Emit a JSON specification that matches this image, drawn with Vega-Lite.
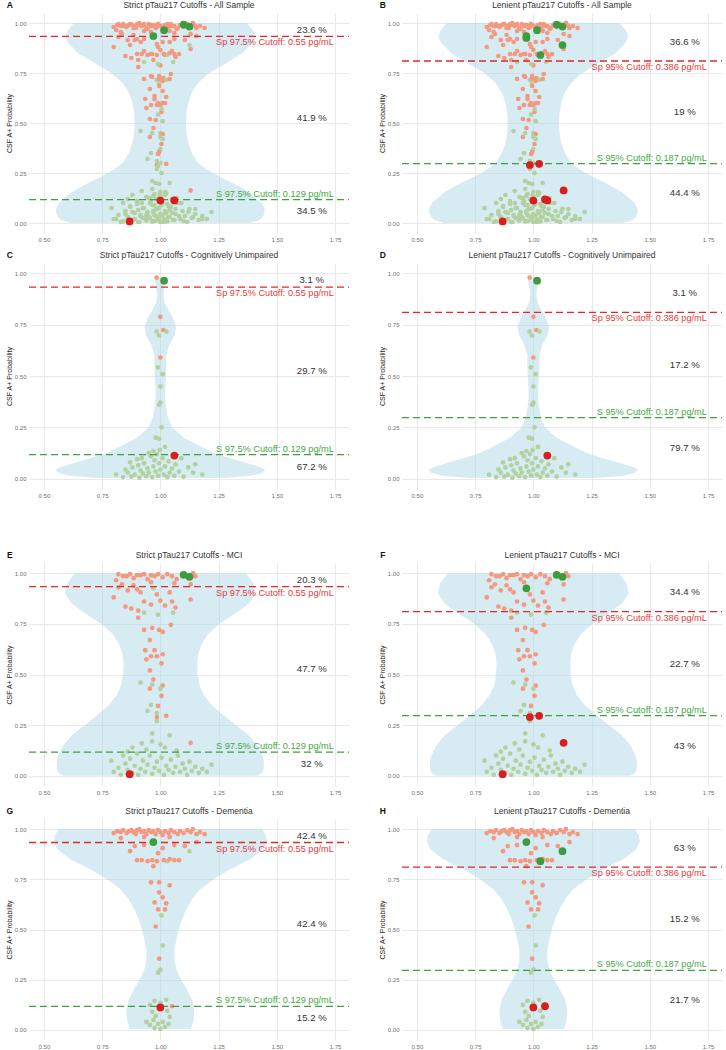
{
"$schema": "https://vega.github.io/schema/vega-lite/v6.json",
"padding": {"left": 5, "top": 1, "right": 0, "bottom": 0},
"config": {
  "font": "Liberation Sans",
  "view": {"stroke": null},
  "axis": {"domain": false, "ticks": false, "labelFontSize": 6, "labelColor": "#707070", "labelPadding": 3, "titleFontSize": 7, "titleFontWeight": "normal", "titleColor": "#222222", "titlePadding": 2}
},
"datasets": {
"cut": [
 {"m":"S","k":"sp","y":0.933,"t":"Sp 97.5% Cutoff: 0.55 pg/mL"},
 {"m":"S","k":"s","y":0.117,"t":"S 97.5% Cutoff: 0.129 pg/mL"},
 {"m":"L","k":"sp","y":0.81,"t":"Sp 95% Cutoff: 0.386 pg/mL"},
 {"m":"L","k":"s","y":0.297,"t":"S 95% Cutoff: 0.187 pg/mL"}
],
"pct": [
 {"p":"A","y":0.9665,"t":"23.6 %"},{"p":"A","y":0.525,"t":"41.9 %"},{"p":"A","y":0.0585,"t":"34.5 %"},
 {"p":"B","y":0.905,"t":"36.6 %"},{"p":"B","y":0.5535,"t":"19 %"},{"p":"B","y":0.1485,"t":"44.4 %"},
 {"p":"C","y":0.9665,"t":"3.1 %"},{"p":"C","y":0.525,"t":"29.7 %"},{"p":"C","y":0.0585,"t":"67.2 %"},
 {"p":"D","y":0.905,"t":"3.1 %"},{"p":"D","y":0.5535,"t":"17.2 %"},{"p":"D","y":0.1485,"t":"79.7 %"},
 {"p":"E","y":0.9665,"t":"20.3 %"},{"p":"E","y":0.525,"t":"47.7 %"},{"p":"E","y":0.0585,"t":"32 %"},
 {"p":"F","y":0.905,"t":"34.4 %"},{"p":"F","y":0.5535,"t":"22.7 %"},{"p":"F","y":0.1485,"t":"43 %"},
 {"p":"G","y":0.9665,"t":"42.4 %"},{"p":"G","y":0.525,"t":"42.4 %"},{"p":"G","y":0.0585,"t":"15.2 %"},
 {"p":"H","y":0.905,"t":"63 %"},{"p":"H","y":0.5535,"t":"15.2 %"},{"p":"H","y":0.1485,"t":"21.7 %"}
],
"ttl": [
 {"p":"A","t":"Strict pTau217 Cutoffs - All Sample"},
 {"p":"B","t":"Lenient pTau217 Cutoffs - All Sample"},
 {"p":"C","t":"Strict pTau217 Cutoffs - Cognitively Unimpaired"},
 {"p":"D","t":"Lenient pTau217 Cutoffs - Cognitively Unimpaired"},
 {"p":"E","t":"Strict pTau217 Cutoffs - MCI"},
 {"p":"F","t":"Lenient pTau217 Cutoffs - MCI"},
 {"p":"G","t":"Strict pTau217 Cutoffs - Dementia"},
 {"p":"H","t":"Lenient pTau217 Cutoffs - Dementia"}
],
"vio": [
 {"v":"A","y":0.0,"x":0.615,"x2":1.385},{"v":"A","y":0.015,"x":0.575,"x2":1.425},{"v":"A","y":0.03,"x":0.56,"x2":1.44},{"v":"A","y":0.05,"x":0.553,"x2":1.447},{"v":"A","y":0.07,"x":0.552,"x2":1.448},{"v":"A","y":0.1,"x":0.565,"x2":1.435},{"v":"A","y":0.125,"x":0.59,"x2":1.41},{"v":"A","y":0.15,"x":0.615,"x2":1.385},{"v":"A","y":0.175,"x":0.65,"x2":1.35},{"v":"A","y":0.2,"x":0.69,"x2":1.31},{"v":"A","y":0.225,"x":0.735,"x2":1.265},{"v":"A","y":0.25,"x":0.775,"x2":1.225},{"v":"A","y":0.275,"x":0.81,"x2":1.19},{"v":"A","y":0.3,"x":0.838,"x2":1.162},{"v":"A","y":0.35,"x":0.865,"x2":1.135},{"v":"A","y":0.4,"x":0.88,"x2":1.12},{"v":"A","y":0.45,"x":0.888,"x2":1.112},{"v":"A","y":0.5,"x":0.89,"x2":1.11},{"v":"A","y":0.55,"x":0.888,"x2":1.112},{"v":"A","y":0.6,"x":0.88,"x2":1.12},{"v":"A","y":0.65,"x":0.866,"x2":1.134},{"v":"A","y":0.7,"x":0.838,"x2":1.162},{"v":"A","y":0.75,"x":0.79,"x2":1.21},{"v":"A","y":0.8,"x":0.717,"x2":1.283},{"v":"A","y":0.85,"x":0.646,"x2":1.354},{"v":"A","y":0.9,"x":0.605,"x2":1.395},{"v":"A","y":0.93,"x":0.592,"x2":1.408},{"v":"A","y":0.96,"x":0.6,"x2":1.4},{"v":"A","y":1.0,"x":0.63,"x2":1.37},
 {"v":"C","y":0.003,"x":0.73,"x2":1.27},{"v":"C","y":0.015,"x":0.61,"x2":1.39},{"v":"C","y":0.03,"x":0.56,"x2":1.44},{"v":"C","y":0.045,"x":0.55,"x2":1.45},{"v":"C","y":0.06,"x":0.58,"x2":1.42},{"v":"C","y":0.08,"x":0.64,"x2":1.36},{"v":"C","y":0.1,"x":0.7,"x2":1.3},{"v":"C","y":0.12,"x":0.76,"x2":1.24},{"v":"C","y":0.15,"x":0.815,"x2":1.185},{"v":"C","y":0.2,"x":0.9,"x2":1.1},{"v":"C","y":0.25,"x":0.95,"x2":1.05},{"v":"C","y":0.3,"x":0.968,"x2":1.032},{"v":"C","y":0.35,"x":0.976,"x2":1.024},{"v":"C","y":0.4,"x":0.98,"x2":1.02},{"v":"C","y":0.45,"x":0.979,"x2":1.021},{"v":"C","y":0.5,"x":0.976,"x2":1.024},{"v":"C","y":0.55,"x":0.974,"x2":1.026},{"v":"C","y":0.6,"x":0.975,"x2":1.025},{"v":"C","y":0.65,"x":0.962,"x2":1.038},{"v":"C","y":0.7,"x":0.938,"x2":1.062},{"v":"C","y":0.74,"x":0.932,"x2":1.068},{"v":"C","y":0.78,"x":0.945,"x2":1.055},{"v":"C","y":0.82,"x":0.965,"x2":1.035},{"v":"C","y":0.86,"x":0.983,"x2":1.017},{"v":"C","y":0.9,"x":0.987,"x2":1.013},{"v":"C","y":0.94,"x":0.982,"x2":1.018},{"v":"C","y":0.97,"x":0.976,"x2":1.024},{"v":"C","y":0.98,"x":0.98,"x2":1.02},
 {"v":"M","y":0.0,"x":0.583,"x2":1.417},{"v":"M","y":0.015,"x":0.563,"x2":1.437},{"v":"M","y":0.03,"x":0.557,"x2":1.443},{"v":"M","y":0.07,"x":0.555,"x2":1.445},{"v":"M","y":0.1,"x":0.562,"x2":1.438},{"v":"M","y":0.15,"x":0.583,"x2":1.417},{"v":"M","y":0.2,"x":0.62,"x2":1.38},{"v":"M","y":0.25,"x":0.675,"x2":1.325},{"v":"M","y":0.3,"x":0.73,"x2":1.27},{"v":"M","y":0.35,"x":0.78,"x2":1.22},{"v":"M","y":0.4,"x":0.814,"x2":1.186},{"v":"M","y":0.45,"x":0.833,"x2":1.167},{"v":"M","y":0.5,"x":0.84,"x2":1.16},{"v":"M","y":0.55,"x":0.842,"x2":1.158},{"v":"M","y":0.6,"x":0.838,"x2":1.162},{"v":"M","y":0.65,"x":0.823,"x2":1.177},{"v":"M","y":0.7,"x":0.795,"x2":1.205},{"v":"M","y":0.75,"x":0.746,"x2":1.254},{"v":"M","y":0.8,"x":0.68,"x2":1.32},{"v":"M","y":0.85,"x":0.62,"x2":1.38},{"v":"M","y":0.9,"x":0.59,"x2":1.41},{"v":"M","y":0.95,"x":0.6,"x2":1.4},{"v":"M","y":1.0,"x":0.633,"x2":1.367},
 {"v":"D","y":0.003,"x":0.869,"x2":1.131},{"v":"D","y":0.05,"x":0.857,"x2":1.143},{"v":"D","y":0.1,"x":0.854,"x2":1.146},{"v":"D","y":0.15,"x":0.864,"x2":1.136},{"v":"D","y":0.2,"x":0.886,"x2":1.114},{"v":"D","y":0.25,"x":0.911,"x2":1.089},{"v":"D","y":0.3,"x":0.931,"x2":1.069},{"v":"D","y":0.35,"x":0.94,"x2":1.06},{"v":"D","y":0.4,"x":0.94,"x2":1.06},{"v":"D","y":0.45,"x":0.931,"x2":1.069},{"v":"D","y":0.5,"x":0.921,"x2":1.079},{"v":"D","y":0.55,"x":0.907,"x2":1.093},{"v":"D","y":0.6,"x":0.889,"x2":1.111},{"v":"D","y":0.65,"x":0.864,"x2":1.136},{"v":"D","y":0.7,"x":0.829,"x2":1.171},{"v":"D","y":0.75,"x":0.771,"x2":1.229},{"v":"D","y":0.8,"x":0.7,"x2":1.3},{"v":"D","y":0.85,"x":0.614,"x2":1.386},{"v":"D","y":0.9,"x":0.557,"x2":1.443},{"v":"D","y":0.94,"x":0.543,"x2":1.457},{"v":"D","y":0.97,"x":0.548,"x2":1.452},{"v":"D","y":1.0,"x":0.564,"x2":1.436}
],
"pts": [
 {"g":"C","x":0.984,"y":0.979,"c":"p"},{"g":"C","x":1.016,"y":0.964,"c":"n"},{"g":"C","x":1.0,"y":0.788,"c":"p"},{"g":"C","x":1.013,"y":0.724,"c":"p"},{"g":"C","x":0.984,"y":0.716,"c":"n"},{"g":"C","x":0.994,"y":0.697,"c":"n"},{"g":"C","x":1.026,"y":0.716,"c":"n"},{"g":"C","x":1.0,"y":0.59,"c":"p"},{"g":"C","x":0.99,"y":0.542,"c":"n"},{"g":"C","x":1.01,"y":0.509,"c":"n"},{"g":"C","x":1.0,"y":0.449,"c":"n"},{"g":"C","x":1.0,"y":0.37,"c":"n"},{"g":"C","x":0.995,"y":0.36,"c":"n"},
 {"g":"C","x":1.005,"y":0.25,"c":"n"},{"g":"C","x":0.98,"y":0.2,"c":"n"},{"g":"C","x":0.995,"y":0.195,"c":"n"},{"g":"C","x":1.02,"y":0.155,"c":"n"},{"g":"C","x":0.997,"y":0.14,"c":"n"},{"g":"C","x":0.97,"y":0.135,"c":"n"},{"g":"C","x":0.95,"y":0.125,"c":"n"},{"g":"C","x":0.985,"y":0.12,"c":"n"},{"g":"C","x":1.06,"y":0.113,"c":"p"},
 {"g":"C","x":0.81,"y":0.02,"c":"n"},{"g":"C","x":0.84,"y":0.008,"c":"n"},{"g":"C","x":0.85,"y":0.045,"c":"n"},{"g":"C","x":0.86,"y":0.03,"c":"n"},{"g":"C","x":0.87,"y":0.08,"c":"n"},{"g":"C","x":0.875,"y":0.01,"c":"n"},{"g":"C","x":0.88,"y":0.055,"c":"n"},{"g":"C","x":0.89,"y":0.02,"c":"n"},{"g":"C","x":0.9,"y":0.095,"c":"n"},{"g":"C","x":0.905,"y":0.065,"c":"n"},{"g":"C","x":0.91,"y":0.005,"c":"n"},{"g":"C","x":0.915,"y":0.04,"c":"n"},{"g":"C","x":0.92,"y":0.1,"c":"n"},{"g":"C","x":0.925,"y":0.025,"c":"n"},{"g":"C","x":0.93,"y":0.075,"c":"n"},{"g":"C","x":0.94,"y":0.012,"c":"n"},{"g":"C","x":0.945,"y":0.05,"c":"n"},{"g":"C","x":0.95,"y":0.03,"c":"n"},{"g":"C","x":0.96,"y":0.11,"c":"n"},{"g":"C","x":0.965,"y":0.008,"c":"n"},{"g":"C","x":0.97,"y":0.06,"c":"n"},{"g":"C","x":0.975,"y":0.09,"c":"n"},{"g":"C","x":0.98,"y":0.035,"c":"n"},{"g":"C","x":0.99,"y":0.015,"c":"n"},{"g":"C","x":0.995,"y":0.075,"c":"n"},{"g":"C","x":1.0,"y":0.045,"c":"n"},{"g":"C","x":1.01,"y":0.1,"c":"n"},{"g":"C","x":1.015,"y":0.02,"c":"n"},{"g":"C","x":1.02,"y":0.06,"c":"n"},{"g":"C","x":1.03,"y":0.008,"c":"n"},{"g":"C","x":1.035,"y":0.085,"c":"n"},{"g":"C","x":1.04,"y":0.03,"c":"n"},{"g":"C","x":1.05,"y":0.05,"c":"n"},{"g":"C","x":1.06,"y":0.015,"c":"n"},{"g":"C","x":1.065,"y":0.07,"c":"n"},{"g":"C","x":1.08,"y":0.035,"c":"n"},{"g":"C","x":1.09,"y":0.1,"c":"n"},{"g":"C","x":1.1,"y":0.01,"c":"n"},{"g":"C","x":1.12,"y":0.055,"c":"n"},{"g":"C","x":1.14,"y":0.03,"c":"n"},{"g":"C","x":1.15,"y":0.07,"c":"n"},{"g":"C","x":1.18,"y":0.02,"c":"n"},
 {"g":"M","x":0.82,"y":0.995,"c":"p"},{"g":"M","x":0.81,"y":0.965,"c":"p"},{"g":"M","x":0.84,"y":0.985,"c":"p"},{"g":"M","x":0.855,"y":0.985,"c":"p"},{"g":"M","x":0.87,"y":0.995,"c":"p"},{"g":"M","x":0.885,"y":0.975,"c":"p"},{"g":"M","x":0.9,"y":0.99,"c":"p"},{"g":"M","x":0.915,"y":0.99,"c":"p"},{"g":"M","x":0.93,"y":0.995,"c":"p"},{"g":"M","x":0.945,"y":0.97,"c":"p"},{"g":"M","x":0.96,"y":0.99,"c":"p"},{"g":"M","x":0.975,"y":0.985,"c":"p"},{"g":"M","x":0.99,"y":0.995,"c":"p"},{"g":"M","x":1.01,"y":0.98,"c":"p"},{"g":"M","x":1.03,"y":0.995,"c":"p"},{"g":"M","x":1.05,"y":0.985,"c":"p"},{"g":"M","x":1.07,"y":0.97,"c":"p"},{"g":"M","x":1.14,"y":1.0,"c":"p"},{"g":"M","x":1.15,"y":0.985,"c":"p"},{"g":"M","x":0.835,"y":0.945,"c":"p"},{"g":"M","x":0.885,"y":0.94,"c":"p"},{"g":"M","x":0.96,"y":0.955,"c":"p"},{"g":"M","x":1.06,"y":0.95,"c":"p"},{"g":"M","x":1.13,"y":0.945,"c":"p"},{"g":"M","x":1.1,"y":0.992,"c":"n"},{"g":"M","x":1.125,"y":0.982,"c":"n"},
 {"g":"M","x":0.97,"y":0.925,"c":"n"},{"g":"M","x":0.8,"y":0.88,"c":"p"},{"g":"M","x":0.82,"y":0.93,"c":"p"},{"g":"M","x":0.86,"y":0.915,"c":"p"},{"g":"M","x":0.9,"y":0.92,"c":"p"},{"g":"M","x":0.915,"y":0.905,"c":"p"},{"g":"M","x":0.93,"y":0.86,"c":"p"},{"g":"M","x":0.85,"y":0.835,"c":"p"},{"g":"M","x":0.875,"y":0.825,"c":"p"},{"g":"M","x":0.905,"y":0.815,"c":"p"},{"g":"M","x":0.96,"y":0.845,"c":"p"},{"g":"M","x":0.985,"y":0.895,"c":"p"},{"g":"M","x":1.0,"y":0.865,"c":"p"},{"g":"M","x":1.02,"y":0.84,"c":"p"},{"g":"M","x":1.05,"y":0.86,"c":"p"},{"g":"M","x":1.065,"y":0.83,"c":"p"},{"g":"M","x":1.13,"y":0.87,"c":"p"},{"g":"M","x":1.04,"y":0.905,"c":"p"},
 {"g":"M","x":0.905,"y":0.78,"c":"p"},{"g":"M","x":0.93,"y":0.72,"c":"p"},{"g":"M","x":0.965,"y":0.73,"c":"p"},{"g":"M","x":0.995,"y":0.72,"c":"p"},{"g":"M","x":1.01,"y":0.71,"c":"p"},{"g":"M","x":1.045,"y":0.745,"c":"p"},{"g":"M","x":0.955,"y":0.67,"c":"p"},{"g":"M","x":0.935,"y":0.62,"c":"p"},{"g":"M","x":0.975,"y":0.62,"c":"p"},{"g":"M","x":0.96,"y":0.59,"c":"p"},{"g":"M","x":0.985,"y":0.59,"c":"p"},{"g":"M","x":1.01,"y":0.6,"c":"p"},{"g":"M","x":0.94,"y":0.575,"c":"p"},{"g":"M","x":1.005,"y":0.555,"c":"p"},{"g":"M","x":0.955,"y":0.52,"c":"p"},{"g":"M","x":0.97,"y":0.475,"c":"p"},{"g":"M","x":1.01,"y":0.445,"c":"p"},{"g":"M","x":0.955,"y":0.43,"c":"p"},{"g":"M","x":1.005,"y":0.395,"c":"p"},{"g":"M","x":0.99,"y":0.345,"c":"p"},
 {"g":"M","x":0.93,"y":0.805,"c":"n"},{"g":"M","x":0.99,"y":0.795,"c":"n"},{"g":"M","x":1.055,"y":0.805,"c":"n"},{"g":"M","x":0.915,"y":0.46,"c":"n"},{"g":"M","x":0.965,"y":0.45,"c":"n"},{"g":"M","x":1.0,"y":0.43,"c":"n"},{"g":"M","x":0.96,"y":0.35,"c":"n"},{"g":"M","x":0.945,"y":0.32,"c":"n"},{"g":"M","x":0.985,"y":0.31,"c":"n"},
 {"g":"M","x":0.985,"y":0.29,"c":"p"},{"g":"M","x":1.025,"y":0.296,"c":"p"},{"g":"M","x":1.13,"y":0.163,"c":"p"},{"g":"M","x":0.985,"y":0.27,"c":"n"},{"g":"M","x":0.965,"y":0.21,"c":"n"},{"g":"M","x":1.04,"y":0.2,"c":"n"},{"g":"M","x":0.92,"y":0.16,"c":"n"},{"g":"M","x":0.965,"y":0.17,"c":"n"},{"g":"M","x":1.0,"y":0.155,"c":"n"},{"g":"M","x":0.88,"y":0.14,"c":"n"},{"g":"M","x":0.94,"y":0.13,"c":"n"},{"g":"M","x":1.02,"y":0.14,"c":"n"},{"g":"M","x":1.07,"y":0.125,"c":"n"},{"g":"M","x":0.86,"y":0.12,"c":"n"},
 {"g":"M","x":0.868,"y":0.008,"c":"p"},
 {"g":"M","x":0.79,"y":0.075,"c":"n"},{"g":"M","x":0.8,"y":0.02,"c":"n"},{"g":"M","x":0.82,"y":0.04,"c":"n"},{"g":"M","x":0.83,"y":0.005,"c":"n"},{"g":"M","x":0.84,"y":0.1,"c":"n"},{"g":"M","x":0.85,"y":0.06,"c":"n"},{"g":"M","x":0.86,"y":0.03,"c":"n"},{"g":"M","x":0.87,"y":0.085,"c":"n"},{"g":"M","x":0.88,"y":0.015,"c":"n"},{"g":"M","x":0.89,"y":0.05,"c":"n"},{"g":"M","x":0.9,"y":0.11,"c":"n"},{"g":"M","x":0.905,"y":0.005,"c":"n"},{"g":"M","x":0.915,"y":0.035,"c":"n"},{"g":"M","x":0.925,"y":0.075,"c":"n"},{"g":"M","x":0.935,"y":0.02,"c":"n"},{"g":"M","x":0.945,"y":0.055,"c":"n"},{"g":"M","x":0.955,"y":0.1,"c":"n"},{"g":"M","x":0.965,"y":0.01,"c":"n"},{"g":"M","x":0.975,"y":0.04,"c":"n"},{"g":"M","x":0.985,"y":0.07,"c":"n"},{"g":"M","x":0.995,"y":0.025,"c":"n"},{"g":"M","x":1.005,"y":0.09,"c":"n"},{"g":"M","x":1.015,"y":0.005,"c":"n"},{"g":"M","x":1.025,"y":0.05,"c":"n"},{"g":"M","x":1.035,"y":0.03,"c":"n"},{"g":"M","x":1.045,"y":0.08,"c":"n"},{"g":"M","x":1.055,"y":0.015,"c":"n"},{"g":"M","x":1.065,"y":0.045,"c":"n"},{"g":"M","x":1.075,"y":0.1,"c":"n"},{"g":"M","x":1.085,"y":0.02,"c":"n"},{"g":"M","x":1.095,"y":0.06,"c":"n"},{"g":"M","x":1.105,"y":0.035,"c":"n"},{"g":"M","x":1.115,"y":0.005,"c":"n"},{"g":"M","x":1.125,"y":0.07,"c":"n"},{"g":"M","x":1.135,"y":0.025,"c":"n"},{"g":"M","x":1.15,"y":0.045,"c":"n"},{"g":"M","x":1.165,"y":0.015,"c":"n"},{"g":"M","x":1.18,"y":0.035,"c":"n"},{"g":"M","x":1.2,"y":0.02,"c":"n"},{"g":"M","x":1.22,"y":0.055,"c":"n"},
 {"g":"D","x":0.97,"y":0.935,"c":"n"},
 {"g":"D","x":0.8,"y":0.98,"c":"p"},{"g":"D","x":0.815,"y":0.99,"c":"p"},{"g":"D","x":0.83,"y":0.985,"c":"p"},{"g":"D","x":0.84,"y":0.995,"c":"p"},{"g":"D","x":0.855,"y":0.98,"c":"p"},{"g":"D","x":0.865,"y":0.99,"c":"p"},{"g":"D","x":0.875,"y":0.995,"c":"p"},{"g":"D","x":0.885,"y":0.985,"c":"p"},{"g":"D","x":0.895,"y":0.975,"c":"p"},{"g":"D","x":0.9,"y":0.995,"c":"p"},{"g":"D","x":0.91,"y":1.0,"c":"p"},{"g":"D","x":0.92,"y":0.985,"c":"p"},{"g":"D","x":0.93,"y":0.99,"c":"p"},{"g":"D","x":0.94,"y":0.975,"c":"p"},{"g":"D","x":0.95,"y":0.995,"c":"p"},{"g":"D","x":0.96,"y":0.985,"c":"p"},{"g":"D","x":0.97,"y":0.99,"c":"p"},{"g":"D","x":0.98,"y":0.975,"c":"p"},{"g":"D","x":0.99,"y":0.995,"c":"p"},{"g":"D","x":1.0,"y":0.985,"c":"p"},{"g":"D","x":1.01,"y":0.97,"c":"p"},{"g":"D","x":1.02,"y":0.99,"c":"p"},{"g":"D","x":1.035,"y":0.98,"c":"p"},{"g":"D","x":1.045,"y":0.995,"c":"p"},{"g":"D","x":1.06,"y":0.985,"c":"p"},{"g":"D","x":1.075,"y":0.975,"c":"p"},{"g":"D","x":1.085,"y":0.99,"c":"p"},{"g":"D","x":1.1,"y":0.98,"c":"p"},{"g":"D","x":1.115,"y":0.995,"c":"p"},{"g":"D","x":1.13,"y":0.985,"c":"p"},{"g":"D","x":1.14,"y":1.0,"c":"p"},{"g":"D","x":1.155,"y":0.975,"c":"p"},{"g":"D","x":1.17,"y":0.985,"c":"p"},{"g":"D","x":1.19,"y":0.975,"c":"p"},{"g":"D","x":0.83,"y":0.955,"c":"p"},{"g":"D","x":0.93,"y":0.96,"c":"p"},{"g":"D","x":1.04,"y":0.96,"c":"p"},{"g":"D","x":1.155,"y":0.935,"c":"p"},
 {"g":"D","x":1.125,"y":0.89,"c":"n"},{"g":"D","x":1.03,"y":0.84,"c":"n"},
 {"g":"D","x":0.87,"y":0.89,"c":"p"},{"g":"D","x":0.89,"y":0.915,"c":"p"},{"g":"D","x":0.93,"y":0.92,"c":"p"},{"g":"D","x":0.99,"y":0.88,"c":"p"},{"g":"D","x":1.01,"y":0.905,"c":"p"},{"g":"D","x":1.06,"y":0.92,"c":"p"},{"g":"D","x":1.105,"y":0.915,"c":"p"},{"g":"D","x":0.9,"y":0.845,"c":"p"},{"g":"D","x":0.92,"y":0.845,"c":"p"},{"g":"D","x":0.945,"y":0.84,"c":"p"},{"g":"D","x":0.965,"y":0.845,"c":"p"},{"g":"D","x":0.985,"y":0.84,"c":"p"},{"g":"D","x":1.015,"y":0.845,"c":"p"},{"g":"D","x":1.04,"y":0.85,"c":"p"},{"g":"D","x":1.06,"y":0.845,"c":"p"},{"g":"D","x":1.08,"y":0.845,"c":"p"},{"g":"D","x":0.97,"y":0.815,"c":"p"},
 {"g":"D","x":0.96,"y":0.735,"c":"p"},{"g":"D","x":0.995,"y":0.735,"c":"p"},{"g":"D","x":1.04,"y":0.72,"c":"p"},{"g":"D","x":0.995,"y":0.685,"c":"p"},{"g":"D","x":1.01,"y":0.66,"c":"p"},{"g":"D","x":0.975,"y":0.635,"c":"p"},{"g":"D","x":1.025,"y":0.63,"c":"p"},{"g":"D","x":0.99,"y":0.6,"c":"p"},{"g":"D","x":1.02,"y":0.6,"c":"p"},{"g":"D","x":0.98,"y":0.515,"c":"p"},{"g":"D","x":0.995,"y":0.355,"c":"p"},{"g":"D","x":1.005,"y":0.57,"c":"n"},{"g":"D","x":1.01,"y":0.42,"c":"n"},{"g":"D","x":1.0,"y":0.3,"c":"n"},
 {"g":"D","x":0.99,"y":0.285,"c":"n"},{"g":"D","x":0.975,"y":0.145,"c":"n"},{"g":"D","x":1.025,"y":0.15,"c":"n"},{"g":"D","x":1.0,"y":0.135,"c":"n"},{"g":"D","x":0.955,"y":0.125,"c":"n"},{"g":"D","x":1.05,"y":0.118,"c":"p"},
 {"g":"D","x":1.0,"y":0.112,"c":"p"},
 {"g":"D","x":0.94,"y":0.04,"c":"n"},{"g":"D","x":0.955,"y":0.025,"c":"n"},{"g":"D","x":0.97,"y":0.05,"c":"n"},{"g":"D","x":0.975,"y":0.01,"c":"n"},{"g":"D","x":0.99,"y":0.03,"c":"n"},{"g":"D","x":1.0,"y":0.005,"c":"n"},{"g":"D","x":1.01,"y":0.04,"c":"n"},{"g":"D","x":1.02,"y":0.015,"c":"n"},{"g":"D","x":1.035,"y":0.03,"c":"n"},{"g":"D","x":1.04,"y":0.065,"c":"n"},{"g":"D","x":0.965,"y":0.09,"c":"n"},{"g":"D","x":1.03,"y":0.095,"c":"n"},{"g":"D","x":0.98,"y":0.07,"c":"n"}
]
},
"spacing": 53,
"vconcat": [
{"spacing": 9, "vconcat": [
{"spacing": 28, "hconcat": [
{"width": 320, "height": 220,
 "layer": [
  {"data":{"name":"vio"},"transform":[{"filter":"datum.v=='A'"}],"mark":{"type":"area","orient":"horizontal","color":"#ADD8E6","opacity":0.5},"encoding":{
   "x": {"field":"x","type":"quantitative","scale":{"domain":[0.436,1.81],"nice":false,"zero":false},"axis":{"title":null,"values":[0.5,0.625,0.75,0.875,1,1.125,1.25,1.375,1.5,1.625,1.75],"labelExpr":"abs(datum.value*4-round(datum.value*4))<0.01 ? format(datum.value,'.2f') : ''","gridWidth":{"condition":{"test":"abs(datum.value*4-round(datum.value*4))<0.01","value":0.9},"value":0.45},"gridColor":{"condition":{"test":"abs(datum.value*4-round(datum.value*4))<0.01","value":"#e6e6e6"},"value":"#f0f0f0"}}},
   "x2": {"field":"x2"},
   "y": {"field":"y","type":"quantitative","scale":{"domain":[-0.05,1.05],"nice":false,"zero":false},"axis":{"title":"CSF A+ Probability","values":[0,0.125,0.25,0.375,0.5,0.625,0.75,0.875,1],"labelExpr":"abs(datum.value*4-round(datum.value*4))<0.01 ? format(datum.value,'.2f') : ''","gridWidth":{"condition":{"test":"abs(datum.value*4-round(datum.value*4))<0.01","value":0.9},"value":0.45},"gridColor":{"condition":{"test":"abs(datum.value*4-round(datum.value*4))<0.01","value":"#e6e6e6"},"value":"#f0f0f0"}}}}},
  {"data":{"name":"pts"},"transform":[{"filter":"!((datum.c=='n'&&datum.y>0.933)||(datum.c=='p'&&datum.y<0.117))"}],"mark":{"type":"circle","size":22,"opacity":1},"encoding":{"x":{"field":"x","type":"quantitative"},"y":{"field":"y","type":"quantitative"},"color":{"condition":{"test":"datum.c=='p'","value":"#F6977F"},"value":"#B3D09F"}}},
  {"data":{"name":"cut"},"transform":[{"filter":"datum.m=='S'"}],"mark":{"type":"rule","strokeDash":[7,4],"strokeWidth":1.3},"encoding":{"x":{"datum":0.436},"x2":{"datum":1.81},"y":{"field":"y","type":"quantitative"},"color":{"condition":{"test":"datum.k=='sp'","value":"#E02A2A"},"value":"#40A040"}}},
  {"data":{"name":"pts"},"transform":[{"filter":"(datum.c=='n'&&datum.y>0.933)||(datum.c=='p'&&datum.y<0.117)"}],"mark":{"type":"circle","size":60,"opacity":1},"encoding":{"x":{"field":"x","type":"quantitative"},"y":{"field":"y","type":"quantitative"},"color":{"condition":{"test":"datum.c=='p'","value":"#D81E1E"},"value":"#3F9B3F"}}},
  {"data":{"name":"cut"},"transform":[{"filter":"datum.m=='S'&&datum.k=='sp'"}],"mark":{"type":"text","align":"right","baseline":"top","dy":2,"fontSize":9.2,"color":"#E33B3B"},"encoding":{"x":{"datum":1.745},"y":{"field":"y","type":"quantitative"},"text":{"field":"t"}}},
  {"data":{"name":"cut"},"transform":[{"filter":"datum.m=='S'&&datum.k=='s'"}],"mark":{"type":"text","align":"right","baseline":"bottom","dy":-1,"fontSize":9.2,"color":"#45A845"},"encoding":{"x":{"datum":1.745},"y":{"field":"y","type":"quantitative"},"text":{"field":"t"}}},
  {"data":{"name":"pct"},"transform":[{"filter":"datum.p=='A'"}],"mark":{"type":"text","fontSize":9.6,"color":"#333333"},"encoding":{"x":{"datum":1.65},"y":{"field":"y","type":"quantitative"},"text":{"field":"t"}}},
  {"data":{"name":"ttl"},"transform":[{"filter":"datum.p=='A'"}],"mark":{"type":"text","fontSize":8.5,"color":"#333333"},"encoding":{"x":{"datum":1.123},"y":{"datum":1.088},"text":{"field":"t"}}},
  {"data":{"name":"ttl"},"transform":[{"filter":"datum.p=='A'"}],"mark":{"type":"text","fontSize":8.5,"fontWeight":"bold","color":"#111111"},"encoding":{"x":{"datum":0.354},"y":{"datum":1.088},"text":{"field":"p"}}}
 ]},
{"width": 320, "height": 220,
 "layer": [
  {"data":{"name":"vio"},"transform":[{"filter":"datum.v=='A'"}],"mark":{"type":"area","orient":"horizontal","color":"#ADD8E6","opacity":0.5},"encoding":{
   "x": {"field":"x","type":"quantitative","scale":{"domain":[0.436,1.81],"nice":false,"zero":false},"axis":{"title":null,"values":[0.5,0.625,0.75,0.875,1,1.125,1.25,1.375,1.5,1.625,1.75],"labelExpr":"abs(datum.value*4-round(datum.value*4))<0.01 ? format(datum.value,'.2f') : ''","gridWidth":{"condition":{"test":"abs(datum.value*4-round(datum.value*4))<0.01","value":0.9},"value":0.45},"gridColor":{"condition":{"test":"abs(datum.value*4-round(datum.value*4))<0.01","value":"#e6e6e6"},"value":"#f0f0f0"}}},
   "x2": {"field":"x2"},
   "y": {"field":"y","type":"quantitative","scale":{"domain":[-0.05,1.05],"nice":false,"zero":false},"axis":{"title":"CSF A+ Probability","values":[0,0.125,0.25,0.375,0.5,0.625,0.75,0.875,1],"labelExpr":"abs(datum.value*4-round(datum.value*4))<0.01 ? format(datum.value,'.2f') : ''","gridWidth":{"condition":{"test":"abs(datum.value*4-round(datum.value*4))<0.01","value":0.9},"value":0.45},"gridColor":{"condition":{"test":"abs(datum.value*4-round(datum.value*4))<0.01","value":"#e6e6e6"},"value":"#f0f0f0"}}}}},
  {"data":{"name":"pts"},"transform":[{"filter":"!((datum.c=='n'&&datum.y>0.81)||(datum.c=='p'&&datum.y<0.297))"}],"mark":{"type":"circle","size":22,"opacity":1},"encoding":{"x":{"field":"x","type":"quantitative"},"y":{"field":"y","type":"quantitative"},"color":{"condition":{"test":"datum.c=='p'","value":"#F6977F"},"value":"#B3D09F"}}},
  {"data":{"name":"cut"},"transform":[{"filter":"datum.m=='L'"}],"mark":{"type":"rule","strokeDash":[7,4],"strokeWidth":1.3},"encoding":{"x":{"datum":0.436},"x2":{"datum":1.81},"y":{"field":"y","type":"quantitative"},"color":{"condition":{"test":"datum.k=='sp'","value":"#E02A2A"},"value":"#40A040"}}},
  {"data":{"name":"pts"},"transform":[{"filter":"(datum.c=='n'&&datum.y>0.81)||(datum.c=='p'&&datum.y<0.297)"}],"mark":{"type":"circle","size":60,"opacity":1},"encoding":{"x":{"field":"x","type":"quantitative"},"y":{"field":"y","type":"quantitative"},"color":{"condition":{"test":"datum.c=='p'","value":"#D81E1E"},"value":"#3F9B3F"}}},
  {"data":{"name":"cut"},"transform":[{"filter":"datum.m=='L'&&datum.k=='sp'"}],"mark":{"type":"text","align":"right","baseline":"top","dy":2,"fontSize":9.2,"color":"#E33B3B"},"encoding":{"x":{"datum":1.745},"y":{"field":"y","type":"quantitative"},"text":{"field":"t"}}},
  {"data":{"name":"cut"},"transform":[{"filter":"datum.m=='L'&&datum.k=='s'"}],"mark":{"type":"text","align":"right","baseline":"bottom","dy":-1,"fontSize":9.2,"color":"#45A845"},"encoding":{"x":{"datum":1.745},"y":{"field":"y","type":"quantitative"},"text":{"field":"t"}}},
  {"data":{"name":"pct"},"transform":[{"filter":"datum.p=='B'"}],"mark":{"type":"text","fontSize":9.6,"color":"#333333"},"encoding":{"x":{"datum":1.65},"y":{"field":"y","type":"quantitative"},"text":{"field":"t"}}},
  {"data":{"name":"ttl"},"transform":[{"filter":"datum.p=='B'"}],"mark":{"type":"text","fontSize":8.5,"color":"#333333"},"encoding":{"x":{"datum":1.123},"y":{"datum":1.088},"text":{"field":"t"}}},
  {"data":{"name":"ttl"},"transform":[{"filter":"datum.p=='B'"}],"mark":{"type":"text","fontSize":8.5,"fontWeight":"bold","color":"#111111"},"encoding":{"x":{"datum":0.354},"y":{"datum":1.088},"text":{"field":"p"}}}
 ]}
]},
{"spacing": 28, "hconcat": [
{"width": 320, "height": 226,
 "layer": [
  {"data":{"name":"vio"},"transform":[{"filter":"datum.v=='C'"}],"mark":{"type":"area","orient":"horizontal","color":"#ADD8E6","opacity":0.5},"encoding":{
   "x": {"field":"x","type":"quantitative","scale":{"domain":[0.436,1.81],"nice":false,"zero":false},"axis":{"title":null,"values":[0.5,0.625,0.75,0.875,1,1.125,1.25,1.375,1.5,1.625,1.75],"labelExpr":"abs(datum.value*4-round(datum.value*4))<0.01 ? format(datum.value,'.2f') : ''","gridWidth":{"condition":{"test":"abs(datum.value*4-round(datum.value*4))<0.01","value":0.9},"value":0.45},"gridColor":{"condition":{"test":"abs(datum.value*4-round(datum.value*4))<0.01","value":"#e6e6e6"},"value":"#f0f0f0"}}},
   "x2": {"field":"x2"},
   "y": {"field":"y","type":"quantitative","scale":{"domain":[-0.05,1.05],"nice":false,"zero":false},"axis":{"title":"CSF A+ Probability","values":[0,0.125,0.25,0.375,0.5,0.625,0.75,0.875,1],"labelExpr":"abs(datum.value*4-round(datum.value*4))<0.01 ? format(datum.value,'.2f') : ''","gridWidth":{"condition":{"test":"abs(datum.value*4-round(datum.value*4))<0.01","value":0.9},"value":0.45},"gridColor":{"condition":{"test":"abs(datum.value*4-round(datum.value*4))<0.01","value":"#e6e6e6"},"value":"#f0f0f0"}}}}},
  {"data":{"name":"pts"},"transform":[{"filter":"datum.g=='C'&&!((datum.c=='n'&&datum.y>0.933)||(datum.c=='p'&&datum.y<0.117))"}],"mark":{"type":"circle","size":22,"opacity":1},"encoding":{"x":{"field":"x","type":"quantitative"},"y":{"field":"y","type":"quantitative"},"color":{"condition":{"test":"datum.c=='p'","value":"#F6977F"},"value":"#B3D09F"}}},
  {"data":{"name":"cut"},"transform":[{"filter":"datum.m=='S'"}],"mark":{"type":"rule","strokeDash":[7,4],"strokeWidth":1.3},"encoding":{"x":{"datum":0.436},"x2":{"datum":1.81},"y":{"field":"y","type":"quantitative"},"color":{"condition":{"test":"datum.k=='sp'","value":"#E02A2A"},"value":"#40A040"}}},
  {"data":{"name":"pts"},"transform":[{"filter":"datum.g=='C'&&((datum.c=='n'&&datum.y>0.933)||(datum.c=='p'&&datum.y<0.117))"}],"mark":{"type":"circle","size":60,"opacity":1},"encoding":{"x":{"field":"x","type":"quantitative"},"y":{"field":"y","type":"quantitative"},"color":{"condition":{"test":"datum.c=='p'","value":"#D81E1E"},"value":"#3F9B3F"}}},
  {"data":{"name":"cut"},"transform":[{"filter":"datum.m=='S'&&datum.k=='sp'"}],"mark":{"type":"text","align":"right","baseline":"top","dy":2,"fontSize":9.2,"color":"#E33B3B"},"encoding":{"x":{"datum":1.745},"y":{"field":"y","type":"quantitative"},"text":{"field":"t"}}},
  {"data":{"name":"cut"},"transform":[{"filter":"datum.m=='S'&&datum.k=='s'"}],"mark":{"type":"text","align":"right","baseline":"bottom","dy":-1,"fontSize":9.2,"color":"#45A845"},"encoding":{"x":{"datum":1.745},"y":{"field":"y","type":"quantitative"},"text":{"field":"t"}}},
  {"data":{"name":"pct"},"transform":[{"filter":"datum.p=='C'"}],"mark":{"type":"text","fontSize":9.6,"color":"#333333"},"encoding":{"x":{"datum":1.65},"y":{"field":"y","type":"quantitative"},"text":{"field":"t"}}},
  {"data":{"name":"ttl"},"transform":[{"filter":"datum.p=='C'"}],"mark":{"type":"text","fontSize":8.5,"color":"#333333"},"encoding":{"x":{"datum":1.123},"y":{"datum":1.088},"text":{"field":"t"}}},
  {"data":{"name":"ttl"},"transform":[{"filter":"datum.p=='C'"}],"mark":{"type":"text","fontSize":8.5,"fontWeight":"bold","color":"#111111"},"encoding":{"x":{"datum":0.354},"y":{"datum":1.088},"text":{"field":"p"}}}
 ]},
{"width": 320, "height": 226,
 "layer": [
  {"data":{"name":"vio"},"transform":[{"filter":"datum.v=='C'"}],"mark":{"type":"area","orient":"horizontal","color":"#ADD8E6","opacity":0.5},"encoding":{
   "x": {"field":"x","type":"quantitative","scale":{"domain":[0.436,1.81],"nice":false,"zero":false},"axis":{"title":null,"values":[0.5,0.625,0.75,0.875,1,1.125,1.25,1.375,1.5,1.625,1.75],"labelExpr":"abs(datum.value*4-round(datum.value*4))<0.01 ? format(datum.value,'.2f') : ''","gridWidth":{"condition":{"test":"abs(datum.value*4-round(datum.value*4))<0.01","value":0.9},"value":0.45},"gridColor":{"condition":{"test":"abs(datum.value*4-round(datum.value*4))<0.01","value":"#e6e6e6"},"value":"#f0f0f0"}}},
   "x2": {"field":"x2"},
   "y": {"field":"y","type":"quantitative","scale":{"domain":[-0.05,1.05],"nice":false,"zero":false},"axis":{"title":"CSF A+ Probability","values":[0,0.125,0.25,0.375,0.5,0.625,0.75,0.875,1],"labelExpr":"abs(datum.value*4-round(datum.value*4))<0.01 ? format(datum.value,'.2f') : ''","gridWidth":{"condition":{"test":"abs(datum.value*4-round(datum.value*4))<0.01","value":0.9},"value":0.45},"gridColor":{"condition":{"test":"abs(datum.value*4-round(datum.value*4))<0.01","value":"#e6e6e6"},"value":"#f0f0f0"}}}}},
  {"data":{"name":"pts"},"transform":[{"filter":"datum.g=='C'&&!((datum.c=='n'&&datum.y>0.81)||(datum.c=='p'&&datum.y<0.297))"}],"mark":{"type":"circle","size":22,"opacity":1},"encoding":{"x":{"field":"x","type":"quantitative"},"y":{"field":"y","type":"quantitative"},"color":{"condition":{"test":"datum.c=='p'","value":"#F6977F"},"value":"#B3D09F"}}},
  {"data":{"name":"cut"},"transform":[{"filter":"datum.m=='L'"}],"mark":{"type":"rule","strokeDash":[7,4],"strokeWidth":1.3},"encoding":{"x":{"datum":0.436},"x2":{"datum":1.81},"y":{"field":"y","type":"quantitative"},"color":{"condition":{"test":"datum.k=='sp'","value":"#E02A2A"},"value":"#40A040"}}},
  {"data":{"name":"pts"},"transform":[{"filter":"datum.g=='C'&&((datum.c=='n'&&datum.y>0.81)||(datum.c=='p'&&datum.y<0.297))"}],"mark":{"type":"circle","size":60,"opacity":1},"encoding":{"x":{"field":"x","type":"quantitative"},"y":{"field":"y","type":"quantitative"},"color":{"condition":{"test":"datum.c=='p'","value":"#D81E1E"},"value":"#3F9B3F"}}},
  {"data":{"name":"cut"},"transform":[{"filter":"datum.m=='L'&&datum.k=='sp'"}],"mark":{"type":"text","align":"right","baseline":"top","dy":2,"fontSize":9.2,"color":"#E33B3B"},"encoding":{"x":{"datum":1.745},"y":{"field":"y","type":"quantitative"},"text":{"field":"t"}}},
  {"data":{"name":"cut"},"transform":[{"filter":"datum.m=='L'&&datum.k=='s'"}],"mark":{"type":"text","align":"right","baseline":"bottom","dy":-1,"fontSize":9.2,"color":"#45A845"},"encoding":{"x":{"datum":1.745},"y":{"field":"y","type":"quantitative"},"text":{"field":"t"}}},
  {"data":{"name":"pct"},"transform":[{"filter":"datum.p=='D'"}],"mark":{"type":"text","fontSize":9.6,"color":"#333333"},"encoding":{"x":{"datum":1.65},"y":{"field":"y","type":"quantitative"},"text":{"field":"t"}}},
  {"data":{"name":"ttl"},"transform":[{"filter":"datum.p=='D'"}],"mark":{"type":"text","fontSize":8.5,"color":"#333333"},"encoding":{"x":{"datum":1.123},"y":{"datum":1.088},"text":{"field":"t"}}},
  {"data":{"name":"ttl"},"transform":[{"filter":"datum.p=='D'"}],"mark":{"type":"text","fontSize":8.5,"fontWeight":"bold","color":"#111111"},"encoding":{"x":{"datum":0.354},"y":{"datum":1.088},"text":{"field":"p"}}}
 ]}
]}
]},
{"spacing": 12, "vconcat": [
{"spacing": 28, "hconcat": [
{"width": 320, "height": 223,
 "layer": [
  {"data":{"name":"vio"},"transform":[{"filter":"datum.v=='M'"}],"mark":{"type":"area","orient":"horizontal","color":"#ADD8E6","opacity":0.5},"encoding":{
   "x": {"field":"x","type":"quantitative","scale":{"domain":[0.436,1.81],"nice":false,"zero":false},"axis":{"title":null,"values":[0.5,0.625,0.75,0.875,1,1.125,1.25,1.375,1.5,1.625,1.75],"labelExpr":"abs(datum.value*4-round(datum.value*4))<0.01 ? format(datum.value,'.2f') : ''","gridWidth":{"condition":{"test":"abs(datum.value*4-round(datum.value*4))<0.01","value":0.9},"value":0.45},"gridColor":{"condition":{"test":"abs(datum.value*4-round(datum.value*4))<0.01","value":"#e6e6e6"},"value":"#f0f0f0"}}},
   "x2": {"field":"x2"},
   "y": {"field":"y","type":"quantitative","scale":{"domain":[-0.05,1.05],"nice":false,"zero":false},"axis":{"title":"CSF A+ Probability","values":[0,0.125,0.25,0.375,0.5,0.625,0.75,0.875,1],"labelExpr":"abs(datum.value*4-round(datum.value*4))<0.01 ? format(datum.value,'.2f') : ''","gridWidth":{"condition":{"test":"abs(datum.value*4-round(datum.value*4))<0.01","value":0.9},"value":0.45},"gridColor":{"condition":{"test":"abs(datum.value*4-round(datum.value*4))<0.01","value":"#e6e6e6"},"value":"#f0f0f0"}}}}},
  {"data":{"name":"pts"},"transform":[{"filter":"datum.g=='M'&&!((datum.c=='n'&&datum.y>0.933)||(datum.c=='p'&&datum.y<0.117))"}],"mark":{"type":"circle","size":22,"opacity":1},"encoding":{"x":{"field":"x","type":"quantitative"},"y":{"field":"y","type":"quantitative"},"color":{"condition":{"test":"datum.c=='p'","value":"#F6977F"},"value":"#B3D09F"}}},
  {"data":{"name":"cut"},"transform":[{"filter":"datum.m=='S'"}],"mark":{"type":"rule","strokeDash":[7,4],"strokeWidth":1.3},"encoding":{"x":{"datum":0.436},"x2":{"datum":1.81},"y":{"field":"y","type":"quantitative"},"color":{"condition":{"test":"datum.k=='sp'","value":"#E02A2A"},"value":"#40A040"}}},
  {"data":{"name":"pts"},"transform":[{"filter":"datum.g=='M'&&((datum.c=='n'&&datum.y>0.933)||(datum.c=='p'&&datum.y<0.117))"}],"mark":{"type":"circle","size":60,"opacity":1},"encoding":{"x":{"field":"x","type":"quantitative"},"y":{"field":"y","type":"quantitative"},"color":{"condition":{"test":"datum.c=='p'","value":"#D81E1E"},"value":"#3F9B3F"}}},
  {"data":{"name":"cut"},"transform":[{"filter":"datum.m=='S'&&datum.k=='sp'"}],"mark":{"type":"text","align":"right","baseline":"top","dy":2,"fontSize":9.2,"color":"#E33B3B"},"encoding":{"x":{"datum":1.745},"y":{"field":"y","type":"quantitative"},"text":{"field":"t"}}},
  {"data":{"name":"cut"},"transform":[{"filter":"datum.m=='S'&&datum.k=='s'"}],"mark":{"type":"text","align":"right","baseline":"bottom","dy":-1,"fontSize":9.2,"color":"#45A845"},"encoding":{"x":{"datum":1.745},"y":{"field":"y","type":"quantitative"},"text":{"field":"t"}}},
  {"data":{"name":"pct"},"transform":[{"filter":"datum.p=='E'"}],"mark":{"type":"text","fontSize":9.6,"color":"#333333"},"encoding":{"x":{"datum":1.65},"y":{"field":"y","type":"quantitative"},"text":{"field":"t"}}},
  {"data":{"name":"ttl"},"transform":[{"filter":"datum.p=='E'"}],"mark":{"type":"text","fontSize":8.5,"color":"#333333"},"encoding":{"x":{"datum":1.123},"y":{"datum":1.088},"text":{"field":"t"}}},
  {"data":{"name":"ttl"},"transform":[{"filter":"datum.p=='E'"}],"mark":{"type":"text","fontSize":8.5,"fontWeight":"bold","color":"#111111"},"encoding":{"x":{"datum":0.354},"y":{"datum":1.088},"text":{"field":"p"}}}
 ]},
{"width": 320, "height": 223,
 "layer": [
  {"data":{"name":"vio"},"transform":[{"filter":"datum.v=='M'"}],"mark":{"type":"area","orient":"horizontal","color":"#ADD8E6","opacity":0.5},"encoding":{
   "x": {"field":"x","type":"quantitative","scale":{"domain":[0.436,1.81],"nice":false,"zero":false},"axis":{"title":null,"values":[0.5,0.625,0.75,0.875,1,1.125,1.25,1.375,1.5,1.625,1.75],"labelExpr":"abs(datum.value*4-round(datum.value*4))<0.01 ? format(datum.value,'.2f') : ''","gridWidth":{"condition":{"test":"abs(datum.value*4-round(datum.value*4))<0.01","value":0.9},"value":0.45},"gridColor":{"condition":{"test":"abs(datum.value*4-round(datum.value*4))<0.01","value":"#e6e6e6"},"value":"#f0f0f0"}}},
   "x2": {"field":"x2"},
   "y": {"field":"y","type":"quantitative","scale":{"domain":[-0.05,1.05],"nice":false,"zero":false},"axis":{"title":"CSF A+ Probability","values":[0,0.125,0.25,0.375,0.5,0.625,0.75,0.875,1],"labelExpr":"abs(datum.value*4-round(datum.value*4))<0.01 ? format(datum.value,'.2f') : ''","gridWidth":{"condition":{"test":"abs(datum.value*4-round(datum.value*4))<0.01","value":0.9},"value":0.45},"gridColor":{"condition":{"test":"abs(datum.value*4-round(datum.value*4))<0.01","value":"#e6e6e6"},"value":"#f0f0f0"}}}}},
  {"data":{"name":"pts"},"transform":[{"filter":"datum.g=='M'&&!((datum.c=='n'&&datum.y>0.81)||(datum.c=='p'&&datum.y<0.297))"}],"mark":{"type":"circle","size":22,"opacity":1},"encoding":{"x":{"field":"x","type":"quantitative"},"y":{"field":"y","type":"quantitative"},"color":{"condition":{"test":"datum.c=='p'","value":"#F6977F"},"value":"#B3D09F"}}},
  {"data":{"name":"cut"},"transform":[{"filter":"datum.m=='L'"}],"mark":{"type":"rule","strokeDash":[7,4],"strokeWidth":1.3},"encoding":{"x":{"datum":0.436},"x2":{"datum":1.81},"y":{"field":"y","type":"quantitative"},"color":{"condition":{"test":"datum.k=='sp'","value":"#E02A2A"},"value":"#40A040"}}},
  {"data":{"name":"pts"},"transform":[{"filter":"datum.g=='M'&&((datum.c=='n'&&datum.y>0.81)||(datum.c=='p'&&datum.y<0.297))"}],"mark":{"type":"circle","size":60,"opacity":1},"encoding":{"x":{"field":"x","type":"quantitative"},"y":{"field":"y","type":"quantitative"},"color":{"condition":{"test":"datum.c=='p'","value":"#D81E1E"},"value":"#3F9B3F"}}},
  {"data":{"name":"cut"},"transform":[{"filter":"datum.m=='L'&&datum.k=='sp'"}],"mark":{"type":"text","align":"right","baseline":"top","dy":2,"fontSize":9.2,"color":"#E33B3B"},"encoding":{"x":{"datum":1.745},"y":{"field":"y","type":"quantitative"},"text":{"field":"t"}}},
  {"data":{"name":"cut"},"transform":[{"filter":"datum.m=='L'&&datum.k=='s'"}],"mark":{"type":"text","align":"right","baseline":"bottom","dy":-1,"fontSize":9.2,"color":"#45A845"},"encoding":{"x":{"datum":1.745},"y":{"field":"y","type":"quantitative"},"text":{"field":"t"}}},
  {"data":{"name":"pct"},"transform":[{"filter":"datum.p=='F'"}],"mark":{"type":"text","fontSize":9.6,"color":"#333333"},"encoding":{"x":{"datum":1.65},"y":{"field":"y","type":"quantitative"},"text":{"field":"t"}}},
  {"data":{"name":"ttl"},"transform":[{"filter":"datum.p=='F'"}],"mark":{"type":"text","fontSize":8.5,"color":"#333333"},"encoding":{"x":{"datum":1.123},"y":{"datum":1.088},"text":{"field":"t"}}},
  {"data":{"name":"ttl"},"transform":[{"filter":"datum.p=='F'"}],"mark":{"type":"text","fontSize":8.5,"fontWeight":"bold","color":"#111111"},"encoding":{"x":{"datum":0.354},"y":{"datum":1.088},"text":{"field":"p"}}}
 ]}
]},
{"spacing": 28, "hconcat": [
{"width": 320, "height": 221,
 "layer": [
  {"data":{"name":"vio"},"transform":[{"filter":"datum.v=='D'"}],"mark":{"type":"area","orient":"horizontal","color":"#ADD8E6","opacity":0.5},"encoding":{
   "x": {"field":"x","type":"quantitative","scale":{"domain":[0.436,1.81],"nice":false,"zero":false},"axis":{"title":null,"values":[0.5,0.625,0.75,0.875,1,1.125,1.25,1.375,1.5,1.625,1.75],"labelExpr":"abs(datum.value*4-round(datum.value*4))<0.01 ? format(datum.value,'.2f') : ''","gridWidth":{"condition":{"test":"abs(datum.value*4-round(datum.value*4))<0.01","value":0.9},"value":0.45},"gridColor":{"condition":{"test":"abs(datum.value*4-round(datum.value*4))<0.01","value":"#e6e6e6"},"value":"#f0f0f0"}}},
   "x2": {"field":"x2"},
   "y": {"field":"y","type":"quantitative","scale":{"domain":[-0.05,1.05],"nice":false,"zero":false},"axis":{"title":"CSF A+ Probability","values":[0,0.125,0.25,0.375,0.5,0.625,0.75,0.875,1],"labelExpr":"abs(datum.value*4-round(datum.value*4))<0.01 ? format(datum.value,'.2f') : ''","gridWidth":{"condition":{"test":"abs(datum.value*4-round(datum.value*4))<0.01","value":0.9},"value":0.45},"gridColor":{"condition":{"test":"abs(datum.value*4-round(datum.value*4))<0.01","value":"#e6e6e6"},"value":"#f0f0f0"}}}}},
  {"data":{"name":"pts"},"transform":[{"filter":"datum.g=='D'&&!((datum.c=='n'&&datum.y>0.933)||(datum.c=='p'&&datum.y<0.117))"}],"mark":{"type":"circle","size":22,"opacity":1},"encoding":{"x":{"field":"x","type":"quantitative"},"y":{"field":"y","type":"quantitative"},"color":{"condition":{"test":"datum.c=='p'","value":"#F6977F"},"value":"#B3D09F"}}},
  {"data":{"name":"cut"},"transform":[{"filter":"datum.m=='S'"}],"mark":{"type":"rule","strokeDash":[7,4],"strokeWidth":1.3},"encoding":{"x":{"datum":0.436},"x2":{"datum":1.81},"y":{"field":"y","type":"quantitative"},"color":{"condition":{"test":"datum.k=='sp'","value":"#E02A2A"},"value":"#40A040"}}},
  {"data":{"name":"pts"},"transform":[{"filter":"datum.g=='D'&&((datum.c=='n'&&datum.y>0.933)||(datum.c=='p'&&datum.y<0.117))"}],"mark":{"type":"circle","size":60,"opacity":1},"encoding":{"x":{"field":"x","type":"quantitative"},"y":{"field":"y","type":"quantitative"},"color":{"condition":{"test":"datum.c=='p'","value":"#D81E1E"},"value":"#3F9B3F"}}},
  {"data":{"name":"cut"},"transform":[{"filter":"datum.m=='S'&&datum.k=='sp'"}],"mark":{"type":"text","align":"right","baseline":"top","dy":2,"fontSize":9.2,"color":"#E33B3B"},"encoding":{"x":{"datum":1.745},"y":{"field":"y","type":"quantitative"},"text":{"field":"t"}}},
  {"data":{"name":"cut"},"transform":[{"filter":"datum.m=='S'&&datum.k=='s'"}],"mark":{"type":"text","align":"right","baseline":"bottom","dy":-1,"fontSize":9.2,"color":"#45A845"},"encoding":{"x":{"datum":1.745},"y":{"field":"y","type":"quantitative"},"text":{"field":"t"}}},
  {"data":{"name":"pct"},"transform":[{"filter":"datum.p=='G'"}],"mark":{"type":"text","fontSize":9.6,"color":"#333333"},"encoding":{"x":{"datum":1.65},"y":{"field":"y","type":"quantitative"},"text":{"field":"t"}}},
  {"data":{"name":"ttl"},"transform":[{"filter":"datum.p=='G'"}],"mark":{"type":"text","fontSize":8.5,"color":"#333333"},"encoding":{"x":{"datum":1.123},"y":{"datum":1.088},"text":{"field":"t"}}},
  {"data":{"name":"ttl"},"transform":[{"filter":"datum.p=='G'"}],"mark":{"type":"text","fontSize":8.5,"fontWeight":"bold","color":"#111111"},"encoding":{"x":{"datum":0.354},"y":{"datum":1.088},"text":{"field":"p"}}}
 ]},
{"width": 320, "height": 221,
 "layer": [
  {"data":{"name":"vio"},"transform":[{"filter":"datum.v=='D'"}],"mark":{"type":"area","orient":"horizontal","color":"#ADD8E6","opacity":0.5},"encoding":{
   "x": {"field":"x","type":"quantitative","scale":{"domain":[0.436,1.81],"nice":false,"zero":false},"axis":{"title":null,"values":[0.5,0.625,0.75,0.875,1,1.125,1.25,1.375,1.5,1.625,1.75],"labelExpr":"abs(datum.value*4-round(datum.value*4))<0.01 ? format(datum.value,'.2f') : ''","gridWidth":{"condition":{"test":"abs(datum.value*4-round(datum.value*4))<0.01","value":0.9},"value":0.45},"gridColor":{"condition":{"test":"abs(datum.value*4-round(datum.value*4))<0.01","value":"#e6e6e6"},"value":"#f0f0f0"}}},
   "x2": {"field":"x2"},
   "y": {"field":"y","type":"quantitative","scale":{"domain":[-0.05,1.05],"nice":false,"zero":false},"axis":{"title":"CSF A+ Probability","values":[0,0.125,0.25,0.375,0.5,0.625,0.75,0.875,1],"labelExpr":"abs(datum.value*4-round(datum.value*4))<0.01 ? format(datum.value,'.2f') : ''","gridWidth":{"condition":{"test":"abs(datum.value*4-round(datum.value*4))<0.01","value":0.9},"value":0.45},"gridColor":{"condition":{"test":"abs(datum.value*4-round(datum.value*4))<0.01","value":"#e6e6e6"},"value":"#f0f0f0"}}}}},
  {"data":{"name":"pts"},"transform":[{"filter":"datum.g=='D'&&!((datum.c=='n'&&datum.y>0.81)||(datum.c=='p'&&datum.y<0.297))"}],"mark":{"type":"circle","size":22,"opacity":1},"encoding":{"x":{"field":"x","type":"quantitative"},"y":{"field":"y","type":"quantitative"},"color":{"condition":{"test":"datum.c=='p'","value":"#F6977F"},"value":"#B3D09F"}}},
  {"data":{"name":"cut"},"transform":[{"filter":"datum.m=='L'"}],"mark":{"type":"rule","strokeDash":[7,4],"strokeWidth":1.3},"encoding":{"x":{"datum":0.436},"x2":{"datum":1.81},"y":{"field":"y","type":"quantitative"},"color":{"condition":{"test":"datum.k=='sp'","value":"#E02A2A"},"value":"#40A040"}}},
  {"data":{"name":"pts"},"transform":[{"filter":"datum.g=='D'&&((datum.c=='n'&&datum.y>0.81)||(datum.c=='p'&&datum.y<0.297))"}],"mark":{"type":"circle","size":60,"opacity":1},"encoding":{"x":{"field":"x","type":"quantitative"},"y":{"field":"y","type":"quantitative"},"color":{"condition":{"test":"datum.c=='p'","value":"#D81E1E"},"value":"#3F9B3F"}}},
  {"data":{"name":"cut"},"transform":[{"filter":"datum.m=='L'&&datum.k=='sp'"}],"mark":{"type":"text","align":"right","baseline":"top","dy":2,"fontSize":9.2,"color":"#E33B3B"},"encoding":{"x":{"datum":1.745},"y":{"field":"y","type":"quantitative"},"text":{"field":"t"}}},
  {"data":{"name":"cut"},"transform":[{"filter":"datum.m=='L'&&datum.k=='s'"}],"mark":{"type":"text","align":"right","baseline":"bottom","dy":-1,"fontSize":9.2,"color":"#45A845"},"encoding":{"x":{"datum":1.745},"y":{"field":"y","type":"quantitative"},"text":{"field":"t"}}},
  {"data":{"name":"pct"},"transform":[{"filter":"datum.p=='H'"}],"mark":{"type":"text","fontSize":9.6,"color":"#333333"},"encoding":{"x":{"datum":1.65},"y":{"field":"y","type":"quantitative"},"text":{"field":"t"}}},
  {"data":{"name":"ttl"},"transform":[{"filter":"datum.p=='H'"}],"mark":{"type":"text","fontSize":8.5,"color":"#333333"},"encoding":{"x":{"datum":1.123},"y":{"datum":1.088},"text":{"field":"t"}}},
  {"data":{"name":"ttl"},"transform":[{"filter":"datum.p=='H'"}],"mark":{"type":"text","fontSize":8.5,"fontWeight":"bold","color":"#111111"},"encoding":{"x":{"datum":0.354},"y":{"datum":1.088},"text":{"field":"p"}}}
 ]}
]}
]}
]
}
